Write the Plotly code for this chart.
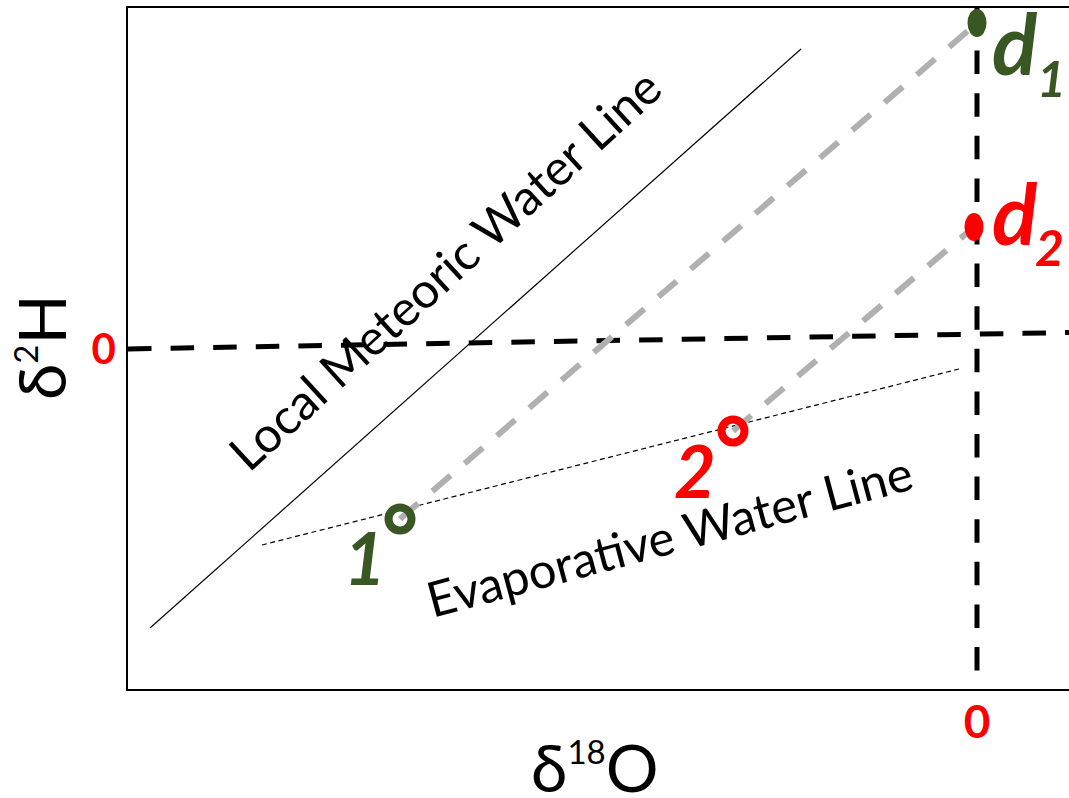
import plotly.graph_objects as go

# ---- data (arbitrary delta units; origin = 0 per-mil on both axes) ----
x_range = [-84.9, 9.2]
y_range = [-34.0, 34.1]
tick_vals = [0]
tick_text = ["0"]

lmwl_x = [-82.7, -17.6]          # Local Meteoric Water Line
lmwl_y = [-27.9, 30.0]
ewl_x = [-71.5, -1.8]            # Evaporative Water Line
ewl_y = [-19.6, -2.0]
zero_h_x = [-84.9, 9.2]          # delta2H = 0 reference line
zero_h_y = [0.0, 1.65]
zero_o_x = [0.0, 0.0]            # delta18O = 0 reference line
zero_o_y = [34.1, -34.0]

sample_labels = ["1", "2"]
sample_x = [-57.7, -24.4]
sample_y = [-17.0, -8.2]

d_labels = ["1", "2"]
d_x = [0.0, -0.3]
d_y = [32.6, 12.2]

GREEN = "#385723"
RED = "#ff0000"
GRAY = "#b0b0b0"
colors = [GREEN, RED]
FONT = "Lato, 'Open Sans', sans-serif"

fig = go.Figure()

fig.add_trace(go.Scatter(x=lmwl_x, y=lmwl_y, mode="lines",
                         line=dict(color="black", width=1.2), hoverinfo="skip"))
fig.add_trace(go.Scatter(x=ewl_x, y=ewl_y, mode="lines",
                         line=dict(color="black", width=1.2, dash="5px,3.5px"), hoverinfo="skip"))
fig.add_trace(go.Scatter(x=zero_h_x, y=zero_h_y, mode="lines",
                         line=dict(color="black", width=5, dash="23.5px,19.1px"), hoverinfo="skip"))
fig.add_trace(go.Scatter(x=zero_o_x, y=zero_o_y, mode="lines",
                         line=dict(color="black", width=5, dash="23.5px,19.1px"), hoverinfo="skip"))

for i in range(len(sample_x)):
    fig.add_trace(go.Scatter(x=[sample_x[i], d_x[i]], y=[sample_y[i], d_y[i]], mode="lines",
                             line=dict(color=GRAY, width=6, dash="24px,18.6px"), hoverinfo="skip"))

fig.add_trace(go.Scatter(x=sample_x, y=sample_y, mode="markers",
                         marker=dict(symbol="circle-open", size=23, color=colors,
                                     line=dict(width=8)), hoverinfo="skip"))

shapes = []
for i in range(len(d_x)):
    shapes.append(dict(type="circle", xref="x", yref="y", layer="above",
                       xsizemode="pixel", ysizemode="pixel",
                       xanchor=d_x[i], yanchor=d_y[i],
                       x0=-9.5, x1=9.5, y0=-14, y1=14,
                       fillcolor=colors[i], line=dict(width=0)))

annotations = []
# sample labels "1", "2"
sample_shift = [(-35, 38), (-38, 39)]
for i in range(len(sample_x)):
    annotations.append(dict(x=sample_x[i], y=sample_y[i], xref="x", yref="y",
                            text=sample_labels[i], showarrow=False,
                            xanchor="center", yanchor="middle",
                            xshift=sample_shift[i][0], yshift=-sample_shift[i][1],
                            font=dict(family=FONT, size=72, color=colors[i],
                                      weight="bold", style="italic")))
# d labels
d_main_shift = [(38, 19), (41, -15)]
d_sub_shift = [(74, 55), (75, 20)]
for i in range(len(d_x)):
    annotations.append(dict(x=d_x[i], y=d_y[i], xref="x", yref="y", text="d",
                            showarrow=False, xanchor="center", yanchor="middle",
                            xshift=d_main_shift[i][0], yshift=-d_main_shift[i][1],
                            font=dict(family=FONT, size=84, color=colors[i],
                                      weight="bold", style="italic")))
    annotations.append(dict(x=d_x[i], y=d_y[i], xref="x", yref="y", text=d_labels[i],
                            showarrow=False, xanchor="center", yanchor="middle",
                            xshift=d_sub_shift[i][0], yshift=-d_sub_shift[i][1],
                            font=dict(family=FONT, size=50, color=colors[i],
                                      weight="bold", style="italic")))

# line labels
lm_mx = (lmwl_x[0] + lmwl_x[1]) / 2
lm_my = (lmwl_y[0] + lmwl_y[1]) / 2
annotations.append(dict(x=lm_mx, y=lm_my, xref="x", yref="y",
                        text="Local Meteoric Water Line", showarrow=False,
                        xanchor="center", yanchor="middle", textangle=-42.5,
                        xshift=-31.5, yshift=69.5,
                        font=dict(family=FONT, size=49, color="black")))
ew_mx = (ewl_x[0] + ewl_x[1]) / 2
ew_my = (ewl_y[0] + ewl_y[1]) / 2
annotations.append(dict(x=ew_mx, y=ew_my, xref="x", yref="y",
                        text="Evaporative Water Line", showarrow=False,
                        xanchor="center", yanchor="middle", textangle=-15.0,
                        xshift=58, yshift=-78,
                        font=dict(family=FONT, size=49, color="black")))

# axis titles
annotations.append(dict(x=0.4963, y=-0.1145, xref="paper", yref="paper",
                        text="δ<sup><span style='font-size:33px'>18</span></sup>O",
                        showarrow=False, xanchor="center", yanchor="middle",
                        font=dict(family=FONT, size=66, color="black")))
annotations.append(dict(x=-0.0935, y=0.5022, xref="paper", yref="paper",
                        text="δ<sup><span style='font-size:33px'>2</span></sup>H",
                        showarrow=False, xanchor="center", yanchor="middle", textangle=-90,
                        font=dict(family=FONT, size=66, color="black")))

fig.update_layout(
    width=1069, height=798,
    margin=dict(l=128, r=0, t=8, b=109),
    paper_bgcolor="white", plot_bgcolor="white",
    showlegend=False,
    shapes=shapes, annotations=annotations,
    xaxis=dict(range=x_range, showgrid=False, zeroline=False,
               showline=True, linecolor="black", linewidth=2, mirror=True,
               ticks="", tickvals=tick_vals, ticktext=tick_text, ticklabelstandoff=-8,
               tickfont=dict(family=FONT, size=46, color=RED, weight="bold"),
               fixedrange=True),
    yaxis=dict(range=y_range, showgrid=False, zeroline=False,
               showline=True, linecolor="black", linewidth=1.5, mirror=False,
               ticks="", tickvals=tick_vals, ticktext=tick_text, ticklabelstandoff=2,
               tickfont=dict(family=FONT, size=42, color=RED, weight="bold"),
               fixedrange=True),
)

fig.write_html("out.html", config={"displayModeBar": False},
               post_script="document.body.style.margin='0';")
